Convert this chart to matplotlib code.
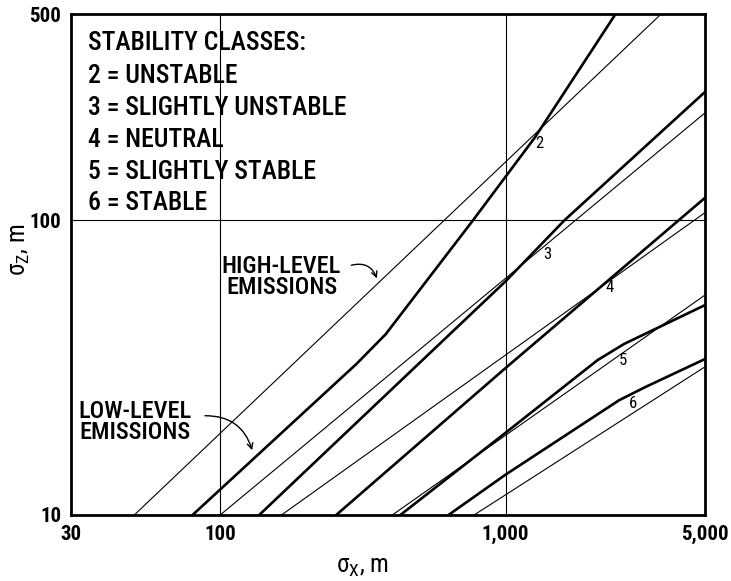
import matplotlib
matplotlib.use("Agg")
import matplotlib.pyplot as plt
from matplotlib import font_manager

# prefer a condensed face if one is installed
names = {f.name for f in font_manager.fontManager.ttflist}
narrow = [n for n in ['Liberation Sans Narrow', 'Roboto Condensed', 'DejaVu Sans Condensed']
          if n in names]
if narrow:
    base = narrow[0]
    scale = 1.0
else:
    base = 'Liberation Sans'
    scale = 0.85
plt.rcParams['font.family'] = [base, 'DejaVu Sans']
plt.rcParams['mathtext.fontset'] = 'custom'
plt.rcParams['mathtext.rm'] = base

# sigma_x (m) / sigma_z (m)
# high-level emissions (thin lines)
hi2_x = [50, 3510];            hi2_y = [10, 500]
hi3_x = [100, 5000];           hi3_y = [10, 231]
hi4_x = [164, 5000];           hi4_y = [10, 106]
hi5_x = [401, 5000];           hi5_y = [10, 55.7]
hi6_x = [776, 5000];           hi6_y = [10, 31.8]
# low-level emissions (thick lines)
lo2_x = [80, 300, 380, 770, 1269, 2430];  lo2_y = [10, 32.5, 41, 100, 191, 500]
lo3_x = [137, 1000, 1611, 5000];          lo3_y = [10, 62, 100, 272]
lo4_x = [255, 1000, 5000];                lo4_y = [10, 31.5, 119]
lo5_x = [428, 1000, 2100, 2600, 5000];    lo5_y = [10, 19, 33.5, 38, 51.5]
lo6_x = [631, 1000, 2500, 3100, 5000];    lo6_y = [10, 13.7, 24.5, 27.2, 33.8]

classes = ['2 = UNSTABLE', '3 = SLIGHTLY UNSTABLE', '4 = NEUTRAL',
           '5 = SLIGHTLY STABLE', '6 = STABLE']
xticks = [30, 100, 1000, 5000]
xlabels = ['30', '100', '1,000', '5,000']
yticks = [10, 100, 500]
ylabels = ['10', '100', '500']

fig = plt.figure(figsize=(7.31, 5.81), dpi=100)
ax = fig.add_axes([0.0971, 0.1136, 0.8673, 0.8623])
ax.set_xscale('log')
ax.set_yscale('log')
ax.set_xlim(30, 5000)
ax.set_ylim(10, 500)

for x, y in [(hi2_x, hi2_y), (hi3_x, hi3_y), (hi4_x, hi4_y), (hi5_x, hi5_y), (hi6_x, hi6_y)]:
    ax.plot(x, y, color='black', lw=0.8)
for x, y in [(lo2_x, lo2_y), (lo3_x, lo3_y), (lo4_x, lo4_y), (lo5_x, lo5_y), (lo6_x, lo6_y)]:
    ax.plot(x, y, color='black', lw=1.9, solid_joinstyle='round')

# grid lines
for gx in [100, 1000]:
    ax.axvline(gx, color='black', lw=0.8)
ax.axhline(100, color='black', lw=0.8)

ax.set_xticks(xticks)
ax.set_xticklabels(xlabels)
ax.set_yticks(yticks)
ax.set_yticklabels(ylabels)
ax.minorticks_off()
ax.tick_params(length=0, labelsize=15 * scale, pad=7)
for lab in ax.get_xticklabels() + ax.get_yticklabels():
    lab.set_fontweight('bold')
for sp in ax.spines.values():
    sp.set_linewidth(2)

# key
ax.text(0.027, 0.943, 'STABILITY CLASSES:', transform=ax.transAxes,
        fontsize=18.5 * scale, va='center', ha='left', fontweight='medium')
for i, c in enumerate(classes):
    ax.text(0.027, 0.876 - i * 0.0635, c, transform=ax.transAxes,
            fontsize=18.5 * scale, va='center', ha='left', fontweight='medium')

# emission labels with arrows
ax.text(0.332, 0.475, 'HIGH-LEVEL\nEMISSIONS', transform=ax.transAxes,
        fontsize=17.5 * scale, ha='center', va='center', linespacing=0.9,
        fontweight='medium')
ax.annotate('', xy=(0.484, 0.467), xytext=(0.438, 0.497),
            xycoords='axes fraction', textcoords='axes fraction',
            arrowprops=dict(arrowstyle='->', color='black', lw=1,
                            connectionstyle='arc3,rad=-0.5'))
ax.text(0.101, 0.186, 'LOW-LEVEL\nEMISSIONS', transform=ax.transAxes,
        fontsize=17.5 * scale, ha='center', va='center', linespacing=0.9,
        fontweight='medium')
ax.annotate('', xy=(0.287, 0.124), xytext=(0.207, 0.198),
            xycoords='axes fraction', textcoords='axes fraction',
            arrowprops=dict(arrowstyle='->', color='black', lw=1,
                            connectionstyle='arc3,rad=-0.4'))

# class numbers on the curves
for s, fx, fy in [('2', 0.738, 0.741), ('3', 0.752, 0.519), ('4', 0.850, 0.455),
                  ('5', 0.871, 0.309), ('6', 0.886, 0.222)]:
    ax.text(fx, fy, s, transform=ax.transAxes, fontsize=12, ha='center', va='center')

fig.text(362 / 731, 1 - 567 / 581, r'σ$_\mathregular{X}$, m', fontsize=18,
         ha='center', va='center')
fig.text(20 / 731, 1 - 250 / 581, r'σ$_\mathregular{Z}$, m', fontsize=18,
         ha='center', va='center', rotation=90)

fig.savefig('out.png', dpi=100)
